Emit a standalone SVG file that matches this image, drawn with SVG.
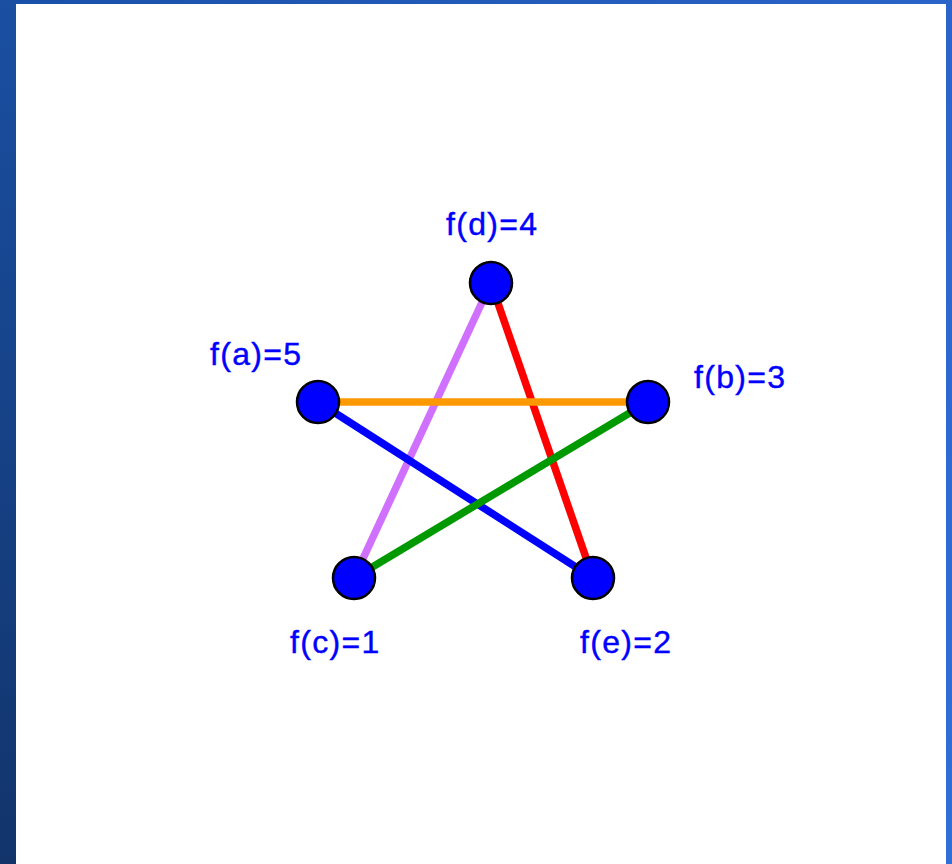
<svg xmlns="http://www.w3.org/2000/svg" width="952" height="864" viewBox="0 0 952 864">
<defs>
<linearGradient id="bg" x1="0" y1="0" x2="1" y2="1">
<stop offset="0" stop-color="#1a50a8"/>
<stop offset="0.5" stop-color="#2a64c8"/>
<stop offset="1" stop-color="#2f6fd8"/>
</linearGradient>
<linearGradient id="lb" x1="0" y1="0" x2="0" y2="1">
<stop offset="0" stop-color="#1a4fa2"/>
<stop offset="1" stop-color="#12346b"/>
</linearGradient>
<style>
.e{stroke-width:7.5;stroke-linecap:butt;fill:none}
.n{fill:#0000ff;stroke:#000;stroke-width:2.5}
.t{font-family:"Liberation Sans",Arial,sans-serif;font-size:32px;fill:#0000ff;stroke:#0000ff;stroke-width:0.4;letter-spacing:1.3px}
</style>
</defs>
<rect x="0" y="0" width="952" height="864" fill="url(#bg)"/>
<rect x="0" y="0" width="16" height="864" fill="url(#lb)"/>
<rect x="16" y="4" width="930" height="860" fill="#ffffff"/>
<g id="connectors">
<line class="e" x1="491" y1="283" x2="354" y2="578" stroke="#d070ff"/>
<line class="e" x1="491" y1="283" x2="593" y2="578" stroke="#ff0000"/>
<line class="e" x1="318" y1="402" x2="648" y2="402" stroke="#ff9900"/>
<line class="e" x1="318" y1="402" x2="593" y2="578" stroke="#0000ff"/>
<line class="e" x1="648" y1="402" x2="354" y2="578" stroke="#009900"/>
</g>
<g id="node-d"><circle class="n" cx="491" cy="283" r="21"/><text class="t" x="446" y="235">f(d)=4</text></g>
<g id="node-a"><circle class="n" cx="318" cy="402" r="21"/><text class="t" x="210" y="365">f(a)=5</text></g>
<g id="node-b"><circle class="n" cx="648" cy="402" r="21"/><text class="t" x="694" y="388">f(b)=3</text></g>
<g id="node-c"><circle class="n" cx="354" cy="578" r="21"/><text class="t" x="290" y="653">f(c)=1</text></g>
<g id="node-e"><circle class="n" cx="593" cy="578" r="21"/><text class="t" x="580" y="653">f(e)=2</text></g>
</svg>
